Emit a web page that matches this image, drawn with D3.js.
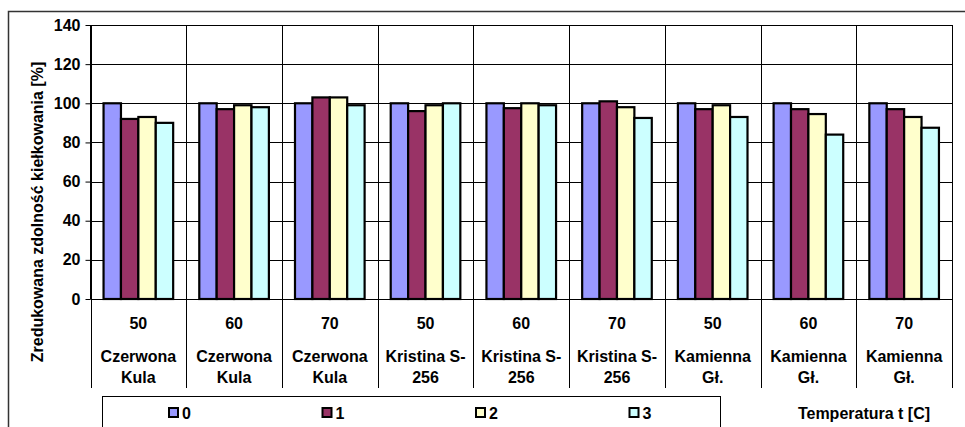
<!DOCTYPE html>
<html>
<head>
<meta charset="utf-8">
<script src="https://cdn.jsdelivr.net/npm/d3@7"></script>
<style>
  body { margin: 0; background: #fff; }
  svg text { font-family: Arial, "Liberation Sans", sans-serif; font-weight: bold; fill: #000; }
</style>
</head>
<body>
<div id="chart"></div>
<script>
// chart data
const temps = ["50", "60", "70", "50", "60", "70", "50", "60", "70"];
const varieties = [["Czerwona", "Kula"], ["Czerwona", "Kula"], ["Czerwona", "Kula"],
  ["Kristina S-", "256"], ["Kristina S-", "256"], ["Kristina S-", "256"],
  ["Kamienna", "Gł."], ["Kamienna", "Gł."], ["Kamienna", "Gł."]];
const seriesNames = ["0", "1", "2", "3"];
const s0 = [100, 100, 100, 100, 100, 100, 100, 100, 100];
const s1 = [92, 97, 103, 96, 97.5, 101, 97, 97, 97];
const s2 = [93, 99, 103, 99, 100, 98, 99, 94.5, 93];
const s3 = [90, 98, 99, 100, 99, 92.5, 93, 84, 87.5];
const yTicks = [0, 20, 40, 60, 80, 100, 120, 140];
const colors = ["#9999ff", "#993366", "#ffffcc", "#ccffff"];

const W = 965, H = 427;
const plot = {left: 90.5, right: 952, top: 25, bottom: 299};
const series = [s0, s1, s2, s3];
const fs = "16px";

const svg = d3.select("#chart").append("svg")
  .attr("width", W).attr("height", H);

// outer chart border
svg.append("rect")
  .attr("x", 8.5).attr("y", 11.5)
  .attr("width", 1000).attr("height", 500)
  .attr("fill", "none").attr("stroke", "#333").attr("stroke-width", 1.5);

let x0 = d3.scaleBand()
  .domain(d3.range(temps.length))
  .range([plot.left, plot.right])
  .paddingInner(0).paddingOuter(0);

let x1 = d3.scaleBand()
  .domain(seriesNames)
  .range([0, x0.bandwidth()])
  .paddingInner(0).paddingOuter(0.75);

let y = d3.scaleLinear().domain([0, 140]).range([plot.bottom, plot.top]);

// horizontal grid
svg.append("g").selectAll("line")
  .data(yTicks)
  .join("line")
  .attr("x1", plot.left).attr("x2", plot.right)
  .attr("y1", d => Math.round(y(d)) + 0.5).attr("y2", d => Math.round(y(d)) + 0.5)
  .attr("stroke", "#000").attr("stroke-width", 1);

// vertical separators, running down through the category labels
let seps = d3.range(temps.length + 1).map(i => i < temps.length ? x0(i) : plot.right);
svg.append("g").selectAll("line")
  .data(seps)
  .join("line")
  .attr("x1", d => Math.round(d) + 0.5).attr("x2", d => Math.round(d) + 0.5)
  .attr("y1", plot.top).attr("y2", 388)
  .attr("stroke", "#000").attr("stroke-width", 1);

// bars
let groups = svg.append("g").selectAll("g")
  .data(temps.map((t, i) => i))
  .join("g")
  .attr("transform", i => `translate(${x0(i)},0)`);

groups.selectAll("rect")
  .data(i => series.map((s, k) => ({name: seriesNames[k], v: s[i], k: k})))
  .join("rect")
  .attr("x", d => x1(d.name))
  .attr("y", d => y(d.v))
  .attr("width", x1.bandwidth())
  .attr("height", d => y(0) - y(d.v))
  .attr("fill", d => colors[d.k])
  .attr("stroke", "#000").attr("stroke-width", 2.2);

// y axis
let yAxis = d3.axisLeft(y).tickValues(yTicks).tickSize(5).tickPadding(5);
let ga = svg.append("g")
  .attr("transform", `translate(${plot.left},0)`)
  .call(yAxis);
ga.select(".domain").remove();
ga.selectAll("line").attr("stroke", "#000");
ga.selectAll("text")
  .style("font-size", fs).style("font-family", "Arial, 'Liberation Sans', sans-serif")
  .style("font-weight", "bold").attr("fill", "#000");
svg.append("line")
  .attr("x1", plot.left).attr("x2", plot.left)
  .attr("y1", plot.top).attr("y2", plot.bottom)
  .attr("stroke", "#000");

// category labels
let cats = svg.append("g").selectAll("g")
  .data(temps.map((t, i) => i))
  .join("g")
  .attr("transform", i => `translate(${x0(i) + x0.bandwidth() / 2},0)`);
cats.append("text")
  .attr("y", 329).attr("text-anchor", "middle")
  .style("font-size", fs)
  .text(i => temps[i]);
cats.append("text")
  .attr("y", 362).attr("text-anchor", "middle")
  .style("font-size", fs)
  .text(i => varieties[i][0]);
cats.append("text")
  .attr("y", 382.5).attr("text-anchor", "middle")
  .style("font-size", fs)
  .text(i => varieties[i][1]);

// axis titles
svg.append("text")
  .attr("transform", "translate(43,212) rotate(-90)")
  .attr("text-anchor", "middle")
  .style("font-size", fs)
  .text("Zredukowana zdolność kiełkowania [%]");

svg.append("text")
  .attr("x", 864).attr("y", 419)
  .attr("text-anchor", "middle")
  .style("font-size", fs)
  .text("Temperatura t [C]");

// legend
let legend = svg.append("g");
legend.append("rect")
  .attr("x", 102.5).attr("y", 396.5)
  .attr("width", 618).attr("height", 60)
  .attr("fill", "#fff").attr("stroke", "#000");
let items = legend.selectAll("g")
  .data(seriesNames)
  .join("g")
  .attr("transform", (d, i) => `translate(${169 + i * 153.5},408)`);
items.append("rect")
  .attr("width", 9).attr("height", 9)
  .attr("fill", (d, i) => colors[i])
  .attr("stroke", "#000").attr("stroke-width", 2);
items.append("text")
  .attr("x", 13).attr("y", 11)
  .style("font-size", fs)
  .text(d => d);
</script>
</body>
</html>
